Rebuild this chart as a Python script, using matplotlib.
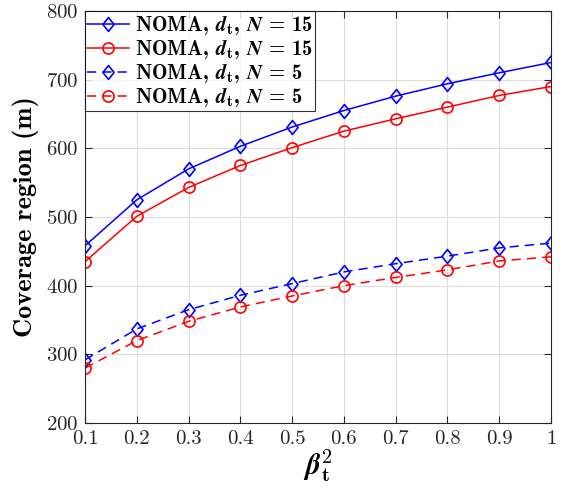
import numpy as np
import matplotlib
matplotlib.use("Agg")
from matplotlib import pyplot as plt
from matplotlib.path import Path

plt.rcParams['mathtext.fontset'] = 'cm'
plt.rcParams['font.family'] = 'serif'
plt.rcParams['font.serif'] = ['cmr10', 'DejaVu Serif']
plt.rcParams['axes.formatter.use_mathtext'] = True

# data
beta2 = [0.1, 0.2, 0.3, 0.4, 0.5, 0.6, 0.7, 0.8, 0.9, 1.0]
noma_a_n15 = [458, 525, 570, 603, 631, 655, 676, 694, 710, 725]
noma_b_n15 = [435, 501, 543, 575, 601, 625, 643, 660, 677, 690]
noma_a_n5 = [292, 337, 365, 386, 403, 420, 432, 443, 455, 462]
noma_b_n5 = [280, 320, 348, 369, 385, 400, 412, 423, 436, 442]

labels = [r'NOMA, $\boldsymbol{d}_{\mathbf{t}}$, $\boldsymbol{N}$ = 15',
          r'NOMA, $\boldsymbol{d}_{\mathbf{t}}$, $\boldsymbol{N}$ = 15',
          r'NOMA, $\boldsymbol{d}_{\mathbf{t}}$, $\boldsymbol{N}$ = 5',
          r'NOMA, $\boldsymbol{d}_{\mathbf{t}}$, $\boldsymbol{N}$ = 5']

# MATLAB style diamond (a bit wider than mpl 'd')
diamond = Path([(0, 1), (0.8, 0), (0, -1), (-0.8, 0), (0, 1)],
               [Path.MOVETO, Path.LINETO, Path.LINETO, Path.LINETO, Path.CLOSEPOLY])

fig = plt.figure(figsize=(5.64, 4.9), dpi=100)
ax = fig.add_axes([0.1507, 0.1367, 0.8263, 0.8409])

ax.plot(beta2, noma_a_n15, '-', color='blue', marker=diamond, ms=10, mfc='none', mew=1.2, lw=1.1, label=labels[0])
ax.plot(beta2, noma_b_n15, '-', color='red', marker='o', ms=8, mfc='none', mew=1.2, lw=1.1, label=labels[1])
ax.plot(beta2, noma_a_n5, '--', color='blue', marker=diamond, ms=10, mfc='none', mew=1.2, lw=1.1, label=labels[2], dashes=(6, 4))
ax.plot(beta2, noma_b_n5, '--', color='red', marker='o', ms=8, mfc='none', mew=1.2, lw=1.1, label=labels[3], dashes=(6, 4))

ax.set_xlim(0.1, 1)
ax.set_ylim(200, 800)
ax.set_xticks(beta2)
ax.set_xticklabels(['0.1', '0.2', '0.3', '0.4', '0.5', '0.6', '0.7', '0.8', '0.9', '1'])
ax.set_yticks(np.arange(200, 801, 100))
ax.tick_params(direction='in', top=True, right=True, labelsize=15, length=5,
               color='#262626', labelcolor='#262626')
ax.tick_params(axis='x', pad=5)
ax.tick_params(axis='y', pad=5)
ax.grid(True, color='#dcdcdc', lw=0.8)
ax.set_axisbelow(True)
for s in ax.spines.values():
    s.set_color('#262626')
    s.set_linewidth(0.8)

ax.set_xlabel(r'$\boldsymbol{\beta}_{\mathbf{t}}^{\mathbf{2}}$', fontsize=21, labelpad=0)
ax.set_ylabel('Coverage region (m)', fontsize=19, fontweight='bold', family=['cmb10', 'DejaVu Serif'],
              labelpad=5)

leg = ax.legend(loc='upper left', prop={'family': ['cmb10', 'DejaVu Serif'], 'size': 15},
                frameon=True, fancybox=False, edgecolor='black',
                borderpad=0.1, handlelength=2.0, handletextpad=0.3, labelspacing=0.0,
                borderaxespad=0.0)
leg.get_frame().set_linewidth(0.8)

fig.savefig('out.png', dpi=100)
